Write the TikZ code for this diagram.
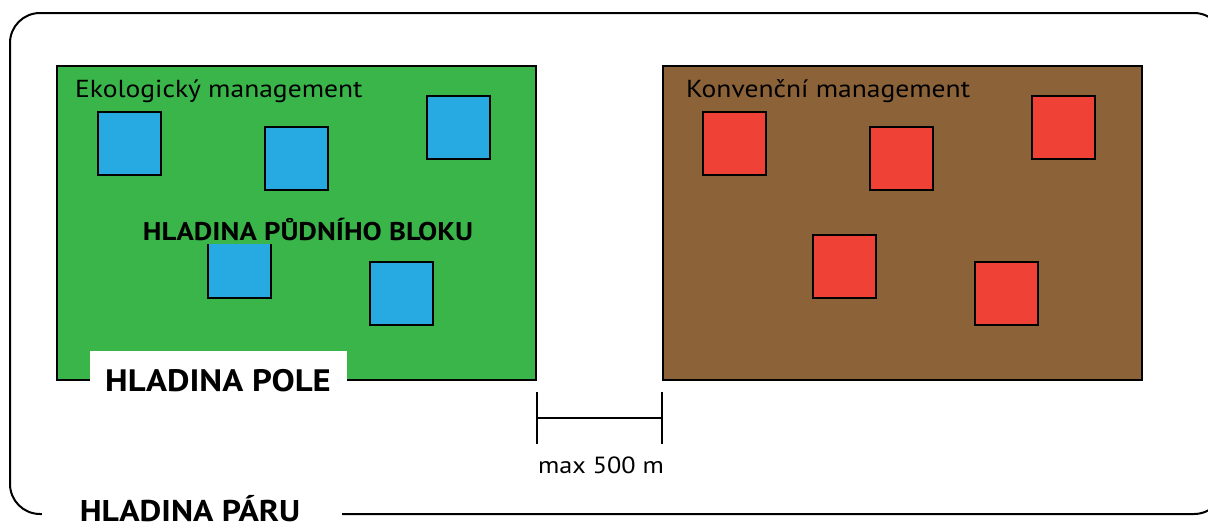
\documentclass[tikz,border=0pt]{standalone}
\usepackage{fontspec}
\setmainfont[FakeStretch=1.12]{PT Sans}
\definecolor{fieldgreen}{HTML}{3AB54A}
\definecolor{fieldbrown}{HTML}{8C6239}
\definecolor{plotblue}{HTML}{27AAE1}
\definecolor{plotred}{HTML}{EF4136}
\tikzset{
  field/.style={draw=black, line width=2pt, anchor=north west, minimum width=479pt, minimum height=314pt, inner sep=0pt, outer sep=0pt},
  plot/.style={draw=black, line width=2pt, anchor=north west, minimum width=63pt, minimum height=63pt, inner sep=0pt, outer sep=0pt},
  bluePlot/.style={plot, fill=plotblue},
  redPlot/.style={plot, fill=plotred},
  fieldlabel/.style={anchor=base west, inner sep=0pt, font=\fontsize{24.6}{28}\selectfont},
  whitebox/.style={fill=white, inner sep=0pt, anchor=north west},
  barline/.style={line width=2pt}
}
\begin{document}
\begin{tikzpicture}[x=1pt, y=-1pt]
\useasboundingbox (0,0) rectangle (1208,522);
\begin{scope}
\clip (0,0) rectangle (1208,522);
% pair frame
\draw[line width=2pt, rounded corners=30pt] (10,13) rectangle (1224,514);

% fields
\node[field, fill=fieldgreen] (eco) at (57,66) {};
\node[field, fill=fieldbrown] (conv) at (663,66) {};

% plots on the organic field
\node[bluePlot] (b1) at (98,112) {};
\node[bluePlot] (b2) at (265,127) {};
\node[bluePlot] (b3) at (427,96) {};
\node[bluePlot] (b4) at (208,235) {};
\node[bluePlot] (b5) at (370,262) {};

% plots on the conventional field
\node[redPlot] (r1) at (703,112) {};
\node[redPlot] (r2) at (870,127) {};
\node[redPlot] (r3) at (1032,96) {};
\node[redPlot] (r4) at (813,235) {};
\node[redPlot] (r5) at (975,262) {};

% field labels
\node[fieldlabel] (ecoT) at (75,97) {Ekologický management};
\node[fieldlabel] (convT) at (686,97) {Konvenční management};

% block level label
\node[font=\bfseries\fontsize{25.6}{30}\selectfont, fill=fieldgreen, inner xsep=2pt, inner ysep=3pt] (block) at (308,230) {HLADINA PŮDNÍHO BLOKU};

% field level label
\node[whitebox, minimum width=257pt, minimum height=52pt] (pole) at (90,351) {};
\node[font=\bfseries\fontsize{31}{36}\selectfont, anchor=base] (poleT) at (218,391) {HLADINA POLE};

% distance bar
\coordinate (sbLt) at (537,392);
\coordinate (sbLb) at (537,444);
\coordinate (sbRt) at (662,392);
\coordinate (sbRb) at (662,444);
\coordinate (sbL) at (537,418);
\coordinate (sbR) at (662,418);
\draw[barline] (sbLt) -- (sbLb);
\draw[barline] (sbRt) -- (sbRb);
\draw[barline] (sbL) -- (sbR);
\node[anchor=base, font=\fontsize{23.4}{26}\selectfont] (dist) at (601,473) {max 500 m};

% pair level label
\node[whitebox, minimum width=300pt, minimum height=40pt] (paruBg) at (42,498) {};
\node[font=\bfseries\fontsize{30}{36}\selectfont, anchor=base] (paru) at (190,521) {HLADINA PÁRU};
\end{scope}
\end{tikzpicture}
\end{document}
